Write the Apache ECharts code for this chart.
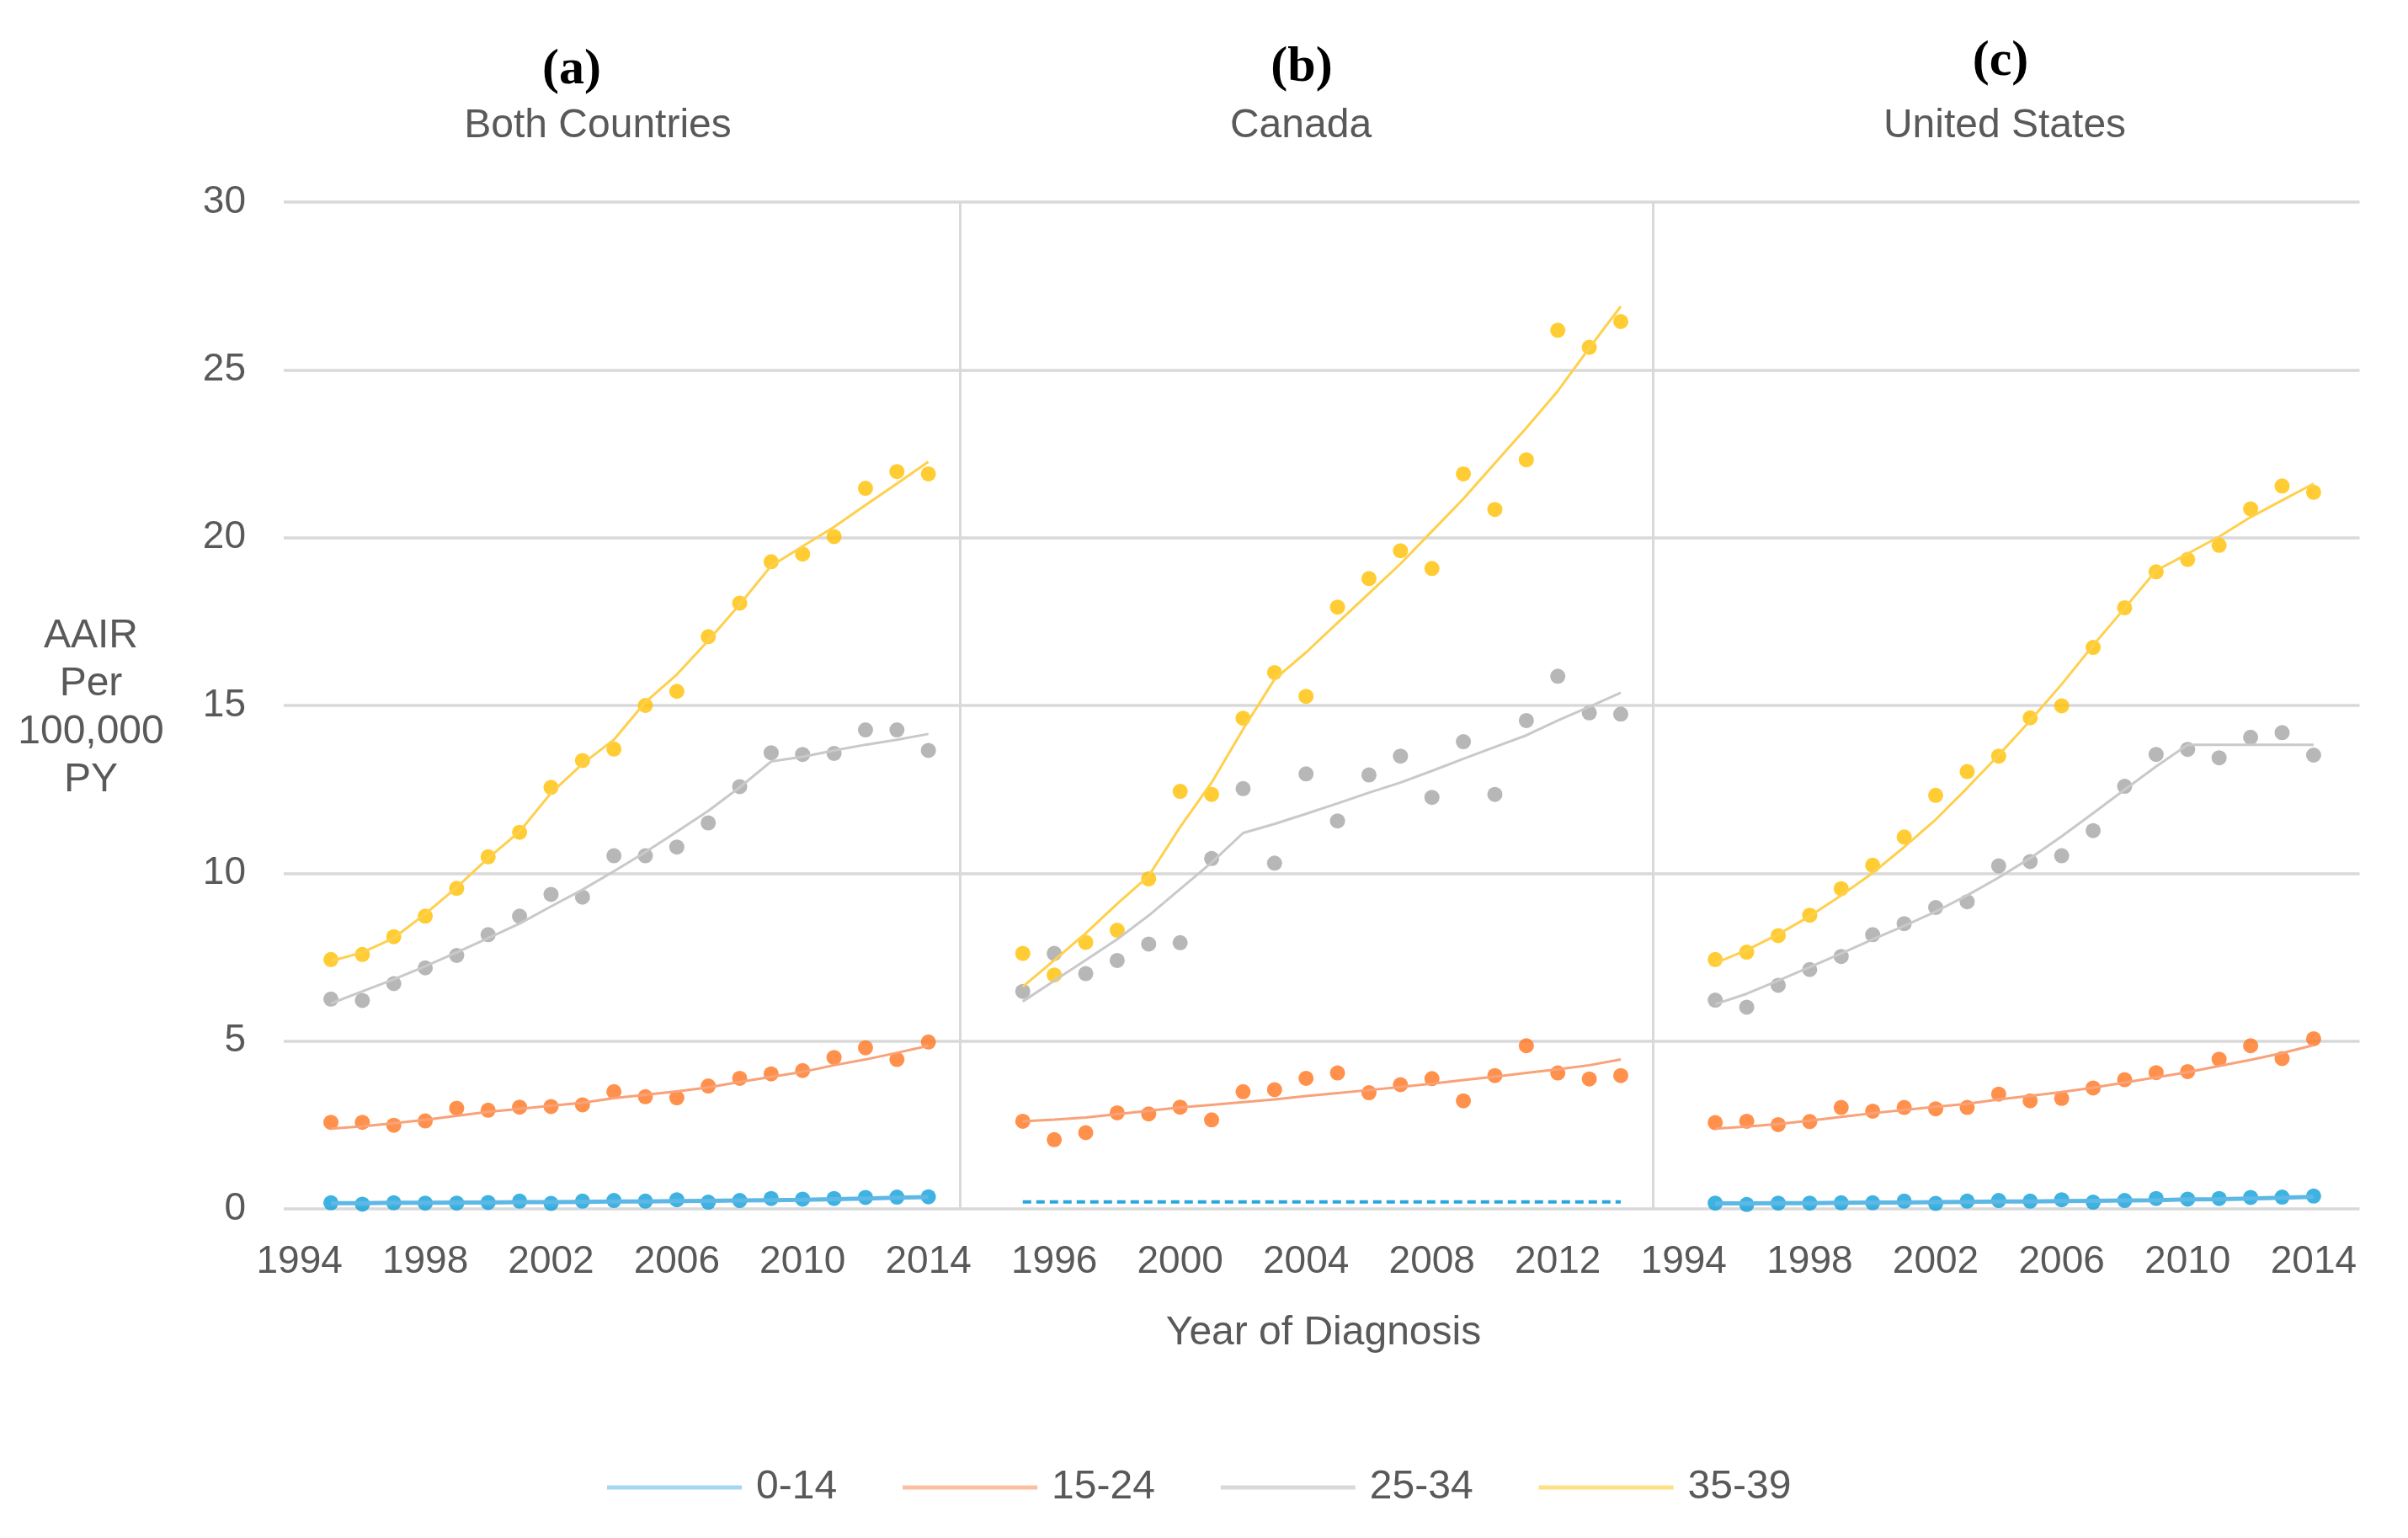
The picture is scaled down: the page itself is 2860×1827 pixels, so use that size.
<!DOCTYPE html>
<html>
<head>
<meta charset="utf-8">
<script src="https://cdn.jsdelivr.net/npm/echarts@6/dist/echarts.min.js"></script>
<style>
html,body{margin:0;padding:0;background:#fff;}
#chart{width:2860px;height:1827px;}
</style>
</head>
<body>
<div id="chart"></div>
<script>
// ---------- data ----------
var years = [1995,1996,1997,1998,1999,2000,2001,2002,2003,2004,2005,2006,2007,2008,2009,2010,2011,2012,2013,2014];
var groups = ['0-14','15-24','25-34','35-39'];
var panelTitles = ['(a)','(b)','(c)'];
var panelNames = ['Both Countries','Canada','United States'];
var ticksA = [1994,1998,2002,2006,2010,2014];
var ticksB = [1996,2000,2004,2008,2012];
var ticksC = [1994,1998,2002,2006,2010,2014];

// (a) Both Countries
var a_014      = [0.18,0.14,0.18,0.17,0.17,0.19,0.23,0.16,0.23,0.25,0.23,0.27,0.20,0.25,0.31,0.29,0.31,0.34,0.35,0.36];
var a_014_fit  = [0.17,0.17,0.18,0.18,0.19,0.19,0.20,0.20,0.21,0.22,0.22,0.23,0.24,0.25,0.26,0.27,0.29,0.31,0.33,0.35];
var a_1524     = [2.58,2.58,2.49,2.62,3.00,2.94,3.03,3.05,3.10,3.49,3.34,3.31,3.66,3.89,4.02,4.12,4.51,4.80,4.45,4.97];
var a_1524_fit = [2.39,2.46,2.55,2.65,2.77,2.89,2.98,3.07,3.16,3.30,3.40,3.50,3.62,3.78,3.93,4.08,4.28,4.45,4.65,4.86];
var a_2534     = [6.25,6.21,6.71,7.18,7.55,8.17,8.72,9.37,9.29,10.52,10.52,10.78,11.50,12.58,13.59,13.54,13.57,14.27,14.27,13.66];
var a_2534_fit = [6.12,6.48,6.84,7.23,7.64,8.07,8.50,9.01,9.51,10.06,10.63,11.24,11.86,12.56,13.33,13.47,13.66,13.83,13.98,14.15];
var a_3539     = [7.43,7.58,8.11,8.72,9.55,10.49,11.22,12.56,13.36,13.70,15.00,15.42,17.05,18.05,19.28,19.51,20.03,21.47,21.97,21.90];
var a_3539_fit = [7.38,7.64,8.07,8.79,9.58,10.45,11.24,12.39,13.26,13.98,15.10,15.92,16.93,18.01,19.16,19.74,20.32,20.97,21.61,22.26];

// (b) Canada
var b_014_fit  = [0.21,0.21,0.21,0.21,0.21,0.21,0.21,0.21,0.21,0.21,0.21,0.21,0.21,0.21,0.21,0.21,0.21,0.21,0.21,0.21];
var b_1524     = [2.61,2.06,2.27,2.86,2.83,3.03,2.65,3.49,3.55,3.89,4.05,3.46,3.70,3.88,3.22,3.97,4.86,4.05,3.87,3.97];
var b_1524_fit = [2.61,2.66,2.72,2.82,2.92,3.02,3.10,3.18,3.26,3.36,3.45,3.54,3.63,3.73,3.84,3.94,4.05,4.16,4.28,4.45];
var b_2534     = [6.48,7.61,7.01,7.40,7.89,7.93,10.44,12.52,10.30,12.96,11.56,12.93,13.49,12.26,13.92,12.35,14.55,15.87,14.78,14.74];
var b_2534_fit = [6.18,6.80,7.41,8.03,8.74,9.53,10.32,11.20,11.47,11.77,12.08,12.40,12.70,13.05,13.41,13.76,14.11,14.55,14.96,15.38];
var b_3539     = [7.61,6.97,7.94,8.30,9.83,12.44,12.35,14.62,15.98,15.27,17.93,18.78,19.61,19.08,21.90,20.84,22.32,26.18,25.67,26.44];
var b_3539_fit = [6.62,7.41,8.21,9.09,9.92,11.38,12.70,14.29,15.78,16.58,17.46,18.34,19.22,20.19,21.16,22.22,23.27,24.37,25.65,26.89];

// (c) United States
var c_014      = [0.17,0.13,0.17,0.17,0.18,0.18,0.23,0.16,0.23,0.25,0.23,0.27,0.20,0.25,0.31,0.29,0.31,0.34,0.35,0.38];
var c_014_fit  = [0.16,0.16,0.17,0.17,0.18,0.19,0.19,0.20,0.21,0.22,0.22,0.23,0.24,0.25,0.26,0.28,0.29,0.31,0.33,0.36];
var c_1524     = [2.57,2.61,2.51,2.60,3.02,2.91,3.02,2.98,3.02,3.42,3.22,3.29,3.60,3.85,4.06,4.09,4.46,4.86,4.48,5.07];
var c_1524_fit = [2.39,2.45,2.53,2.63,2.74,2.85,2.95,3.04,3.13,3.26,3.37,3.48,3.61,3.76,3.92,4.07,4.26,4.44,4.64,4.88];
var c_2534     = [6.22,6.01,6.66,7.13,7.52,8.17,8.50,8.98,9.15,10.22,10.35,10.52,11.27,12.59,13.54,13.69,13.44,14.05,14.19,13.52];
var c_2534_fit = [6.10,6.41,6.80,7.20,7.61,8.03,8.43,8.86,9.34,9.87,10.45,11.10,11.79,12.49,13.18,13.83,13.83,13.83,13.83,13.83];
var c_3539     = [7.43,7.65,8.14,8.75,9.54,10.24,11.08,12.32,13.03,13.49,14.63,14.99,16.73,17.91,18.98,19.35,19.77,20.86,21.54,21.35];
var c_3539_fit = [7.32,7.71,8.18,8.72,9.34,10.01,10.78,11.60,12.54,13.52,14.55,15.63,16.79,17.90,19.02,19.52,20.03,20.61,21.11,21.61];

// ---------- style ----------
var textColor = '#595959';
var font = 'Liberation Sans, Arial, sans-serif';
var pointColors = ['#0E9FDA','#FF7521','#A5A5A5','#FFC000'];
var lineColors  = ['#5DB8E6','#F9A27A','#C9C9C9','#FFD04D'];
var legendColors= ['#8DCDF0','#F9B08A','#CFCFCF','#FFD966'];
var gridColor = '#D9D9D9';

var panels = [
  {pts:[a_014,a_1524,a_2534,a_3539], fit:[a_014_fit,a_1524_fit,a_2534_fit,a_3539_fit], ticks:ticksA, min:1993.5, max:2015.0, left:337, width:803},
  {pts:[null,b_1524,b_2534,b_3539],  fit:[b_014_fit,b_1524_fit,b_2534_fit,b_3539_fit], ticks:ticksB, min:1993.0, max:2015.03, left:1140, width:823.5},
  {pts:[c_014,c_1524,c_2534,c_3539], fit:[c_014_fit,c_1524_fit,c_2534_fit,c_3539_fit], ticks:ticksC, min:1993.03, max:2015.46, left:1963.5, width:839}
];

function pairs(vals){ return years.map(function(y,i){ return [y, vals[i]]; }); }

var grids = [], xAxes = [], yAxes = [], series = [];
panels.forEach(function(p, k){
  grids.push({left:p.left, width:p.width, top:240, height:1196, containLabel:false});
  xAxes.push({
    type:'value', gridIndex:k, min:p.min, max:p.max,
    axisLine:{show:false}, axisTick:{show:false}, splitLine:{show:false},
    axisLabel:{show:true, customValues:p.ticks, margin:40, fontSize:46, color:textColor, fontFamily:font,
      formatter:function(v){ return String(Math.round(v)); }}
  });
  yAxes.push({
    type:'value', gridIndex:k, min:0, max:30, interval:5,
    axisLine:{show:k>0, lineStyle:{color:gridColor, width:3}},
    axisTick:{show:false},
    splitLine:{show:true, lineStyle:{color:gridColor, width:3.5}},
    axisLabel:{show:k===0, margin:45, fontSize:46, color:textColor, fontFamily:font}
  });
  for (var g=0; g<4; g++){
    if (p.pts[g]){
      series.push({
        name:groups[g], type:'scatter', xAxisIndex:k, yAxisIndex:k, data:pairs(p.pts[g]),
        symbol:'circle', symbolSize:18, itemStyle:{color:pointColors[g]}, z:2, silent:true
      });
    }
    var dashed = (k===1 && g===0);
    series.push({
      name:groups[g], type:'line', xAxisIndex:k, yAxisIndex:k, data:pairs(p.fit[g]),
      symbol:'none', smooth:false, z:3, silent:true,
      lineStyle: dashed ? {color:'#27A6E0', width:4, type:[10,6]}
                        : {color:lineColors[g], width:(g===0?5:3)},
      itemStyle:{color:lineColors[g]}
    });
  }
});

var graphics = [];
var titlePos = [[679,83],[1546,80],[2376,73]];
var namePos  = [[710,150],[1545,150],[2381,150]];
for (var i=0;i<3;i++){
  graphics.push({type:'text', x:titlePos[i][0], y:titlePos[i][1],
    style:{text:panelTitles[i], fill:'#000', font:'bold 60px "Liberation Serif", "Times New Roman", serif', textAlign:'center', textVerticalAlign:'middle'}});
  graphics.push({type:'text', x:namePos[i][0], y:namePos[i][1],
    style:{text:panelNames[i], fill:textColor, font:'48px "Liberation Sans", Arial, sans-serif', textAlign:'center', textVerticalAlign:'middle'}});
}
graphics.push({type:'text', x:108, y:841,
  style:{text:'AAIR\nPer\n100,000\nPY', fill:textColor, font:'48px "Liberation Sans", Arial, sans-serif', lineHeight:57, textAlign:'center', textVerticalAlign:'middle'}});
graphics.push({type:'text', x:1572, y:1584,
  style:{text:'Year of Diagnosis', fill:textColor, font:'48px "Liberation Sans", Arial, sans-serif', textAlign:'center', textVerticalAlign:'middle'}});

var chart = echarts.init(document.getElementById('chart'), null, {renderer:'canvas', width:2860, height:1827});
chart.setOption({
  backgroundColor:'#ffffff',
  animation:false,
  grid:grids, xAxis:xAxes, yAxis:yAxes, series:series,
  graphic:graphics,
  legend:{
    left:716, top:1738, icon:'rect', itemWidth:160, itemHeight:5, itemGap:78,
    selectedMode:false,
    textStyle:{fontSize:48, color:textColor, fontFamily:font, padding:[0,0,0,12]},
    data:groups.map(function(n,i){ return {name:n, icon:'rect', itemStyle:{color:legendColors[i]}}; })
  }
});
</script>
</body>
</html>
